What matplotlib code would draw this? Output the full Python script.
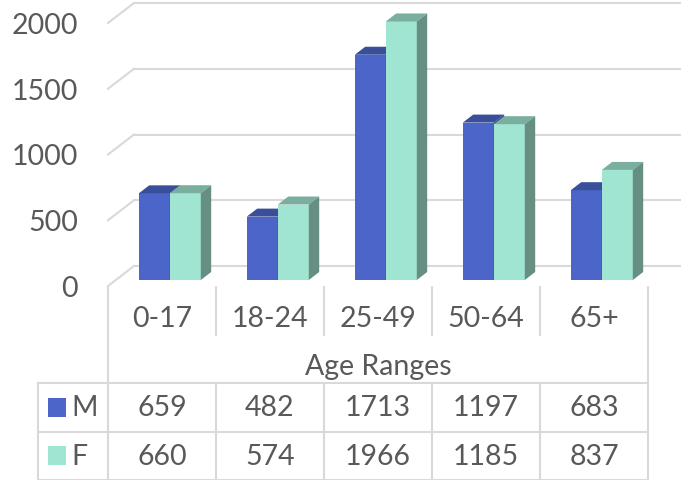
import matplotlib
matplotlib.use("Agg")
import matplotlib.pyplot as plt
from matplotlib.patches import Polygon

plt.rcParams["font.family"] = ["Lato", "DejaVu Sans"]

categories = ["0-17", "18-24", "25-49", "50-64", "65+"]
series_names = ["M", "F"]
male = [659, 482, 1713, 1197, 683]
female = [660, 574, 1966, 1185, 837]
y_ticks = [0, 500, 1000, 1500, 2000]

# colours: front, top, side
colors = {
    "M": ("#4b66c8", "#394f9a", "#33478a"),
    "F": ("#a0e4d2", "#7aae9f", "#668e82"),
}
grid_col = "#d9d9d9"
text_col = "#595959"
fs = 20.5

fig = plt.figure(figsize=(6.81, 4.81), dpi=100)

# chart area: top 287 px (front floor) of the picture
W, H = 681.0, 481.0
floor_px = 287.0
ax = fig.add_axes([0, 0, 1, 1])
ax.set_xlim(-0.5 - 108 / 108, -0.5 + 573 / 108)
px_per_val = 0.1315
ax.set_ylim(-(H - floor_px) / px_per_val, floor_px / px_per_val)
ax.axis("off")

dx = 26 / 108          # depth in category units
dy = 20 / px_per_val   # depth in value units
x0, x1 = -0.5, len(categories) - 0.5
xmax = ax.get_xlim()[1]

# back wall gridlines + side wall diagonals
for v in y_ticks:
    ax.plot([x0 + dx, xmax], [v + dy, v + dy], color=grid_col, lw=1.5, zorder=1)
    ax.plot([x0, x0 + dx], [v, v + dy], color=grid_col, lw=1.5, zorder=1)
    ax.text(x0 - 0.28, v - 15, str(v), ha="right", va="center", fontsize=fs,
            color=text_col)

# bars
bw = 0.287
d_front, d_back = 0.3, 0.7
for i in range(len(categories)):
    for j, (name, vals) in enumerate(zip(series_names, [male, female])):
        front, top, side = colors[name]
        xl = i + (j - 1) * bw + d_front * dx
        xr = xl + bw
        yb = d_front * dy
        yt = vals[i] + yb
        ddx = (d_back - d_front) * dx
        ddy = (d_back - d_front) * dy
        ax.add_patch(Polygon([(xl, yb), (xr, yb), (xr, yt), (xl, yt)],
                             facecolor=front, edgecolor="none", zorder=3 + i * 2 + j))
        ax.add_patch(Polygon([(xl, yt), (xr, yt), (xr + ddx, yt + ddy), (xl + ddx, yt + ddy)],
                             facecolor=top, edgecolor="none", zorder=3 + i * 2 + j))
        ax.add_patch(Polygon([(xr, yb), (xr + ddx, yb + ddy), (xr + ddx, yt + ddy), (xr, yt)],
                             facecolor=side, edgecolor="none", zorder=3 + i * 2 + j))

# table below the chart: rows in units of one row height
tab = fig.add_axes([0, 0, 1, (H - floor_px) / H])
tab.set_xlim(ax.get_xlim())
tab.set_ylim(0, 4)
tab.axis("off")
tab_left = -0.5 - 70 / 108
lc = "#d9d9d9"
for x in [x0, x1]:
    tab.plot([x, x], [0, 4], color=lc, lw=1.5)
for k in range(1, len(categories)):
    tab.plot([x0 + k, x0 + k], [3, 4], color=lc, lw=1.5)
    tab.plot([x0 + k, x0 + k], [0, 2], color=lc, lw=1.5)
tab.plot([tab_left, tab_left], [0, 2], color=lc, lw=1.5)
for y in [0, 1, 2]:
    tab.plot([tab_left, x1], [y, y], color=lc, lw=1.5)

for i, c in enumerate(categories):
    tab.text(i, 3.35, c, ha="center", va="center", fontsize=fs, color=text_col)
tab.text((x0 + x1) / 2, 2.35, "Age Ranges", ha="center", va="center",
         fontsize=fs, color=text_col)

for r, (name, vals) in enumerate(zip(series_names, [male, female])):
    yc = 1.5 - r
    for i, v in enumerate(vals):
        tab.text(i, yc, str(v), ha="center", va="center", fontsize=fs, color=text_col)
    tab.add_patch(plt.Rectangle((tab_left + 0.09, yc - 0.2), 0.17, 0.4,
                                facecolor=colors[name][0], edgecolor="none"))
    tab.text(tab_left + 0.31, yc, name, ha="left", va="center", fontsize=fs,
             color=text_col)

fig.savefig("out.png", dpi=100)
